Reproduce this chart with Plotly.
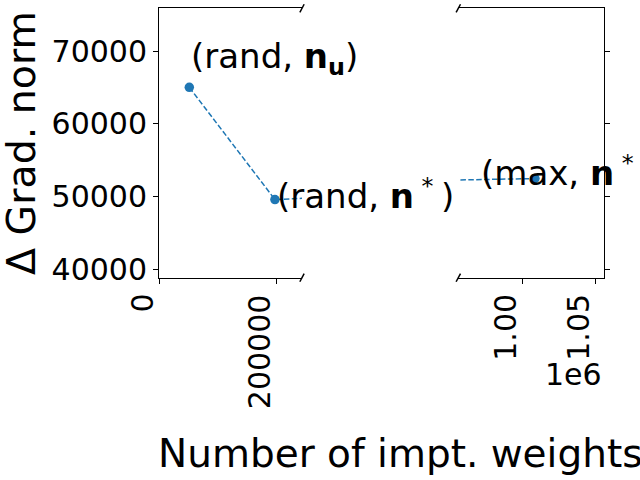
import plotly.graph_objects as go

# data
num_weights = [51500, 197000, 1008700]
grad_norm = [65010, 49590, 52470]
labels = ["(rand, <b>n</b><sub><b>u</b></sub>)",
          "(rand, <b>n</b><sup> * </sup>)",
          "(max, <b>n</b><sup> * </sup>)"]
x1_ticks = [0, 200000]
x1_ticktext = ["0", "200000"]
x2_ticks = [1000000, 1050000]
x2_ticktext = ["1.00", "1.05"]
y_ticks = [40000, 50000, 60000, 70000]

W, H = 640, 480
def px(x):
    return x / W
def py(y):
    return 1 - y / H

blue = "#1f77b4"
FONT = "DejaVu Sans"

fig = go.Figure()
for xa, ya in [("x", "y"), ("x2", "y2")]:
    fig.add_trace(go.Scatter(
        x=num_weights, y=grad_norm, xaxis=xa, yaxis=ya,
        mode="lines+markers",
        line=dict(color=blue, width=1.5, dash="5.5px,2.4px"),
        marker=dict(color=blue, size=9.5),
        cliponaxis=True, showlegend=False,
    ))

ydom = [py(277.7), py(8.3)]
yrange = [38850, 75870]
common_tick = dict(ticks="outside", ticklen=5, tickwidth=1, tickcolor="black",
                   showgrid=False, zeroline=False, showline=True, linecolor="black",
                   linewidth=1, automargin=False,
                   tickfont=dict(family=FONT, size=30, color="black"))

fig.update_layout(
    width=W, height=H,
    margin=dict(l=0, r=0, t=0, b=0),
    paper_bgcolor="white", plot_bgcolor="white",
    font=dict(family=FONT, color="black"),
    xaxis=dict(domain=[px(159), px(302)], range=[0, 243000], anchor="y",
               tickvals=x1_ticks, showticklabels=False, mirror=True, **common_tick),
    yaxis=dict(domain=ydom, range=yrange, anchor="x", tickvals=y_ticks,
               ticktext=[str(v) for v in y_ticks], **common_tick),
    xaxis2=dict(domain=[px(458.3), px(604)], range=[956200, 1056000], anchor="y2",
                tickvals=x2_ticks, showticklabels=False, mirror=True, **common_tick),
    yaxis2=dict(domain=ydom, range=yrange, anchor="x2", side="right",
                tickvals=y_ticks, showticklabels=False, **common_tick),
)

# rotated x tick labels (right-aligned to the tick like the original)
tick_font = dict(family=FONT, size=30, color="black")
for xref, vals, texts in [("x", x1_ticks, x1_ticktext), ("x2", x2_ticks, x2_ticktext)]:
    for v, t in zip(vals, texts):
        fig.add_annotation(x=v, y=py(292), xref=xref, yref="paper", text=t,
                           textangle=-90, showarrow=False, xanchor="center",
                           yanchor="top", xshift=-17, font=tick_font)

ann_font = dict(family=FONT, size=34, color="black")
fig.add_annotation(x=num_weights[0], y=69040, xref="x", yref="y", text=labels[0],
                   showarrow=False, xanchor="left", yanchor="middle", font=ann_font)
fig.add_annotation(x=num_weights[1], y=50300, xref="x", yref="y", text=labels[1],
                   showarrow=False, xanchor="left", yanchor="middle", font=ann_font)
fig.add_annotation(x=970500, y=53450, xref="x2", yref="y2", text=labels[2],
                   showarrow=False, xanchor="left", yanchor="middle", font=ann_font)

# offset text
fig.add_annotation(x=px(604), y=py(374), xref="paper", yref="paper", text="1e6",
                   showarrow=False, xanchor="right", yanchor="middle",
                   font=dict(family=FONT, size=30, color="black"))
# axis titles
fig.add_annotation(x=px(21), y=py(143), xref="paper", yref="paper", text="Δ Grad. norm",
                   textangle=-90, showarrow=False, xanchor="center", yanchor="middle",
                   font=dict(family=FONT, size=39.5, color="black"))
fig.add_annotation(x=px(400), y=py(453), xref="paper", yref="paper",
                   text="Number of impt. weights", showarrow=False,
                   xanchor="center", yanchor="middle",
                   font=dict(family=FONT, size=39, color="black"))

# break marks
d = 0.015
for xr, yr, xc in [("x domain", "y domain", 1), ("x2 domain", "y2 domain", 0)]:
    for yc in (0, 1):
        fig.add_shape(type="line", xref=xr, yref=yr,
                      x0=xc - d, x1=xc + d, y0=yc - d, y1=yc + d,
                      line=dict(color="black", width=1.5))

fig.write_html("out.html", config={"displayModeBar": False},
               post_script="document.body.style.margin='0';")
